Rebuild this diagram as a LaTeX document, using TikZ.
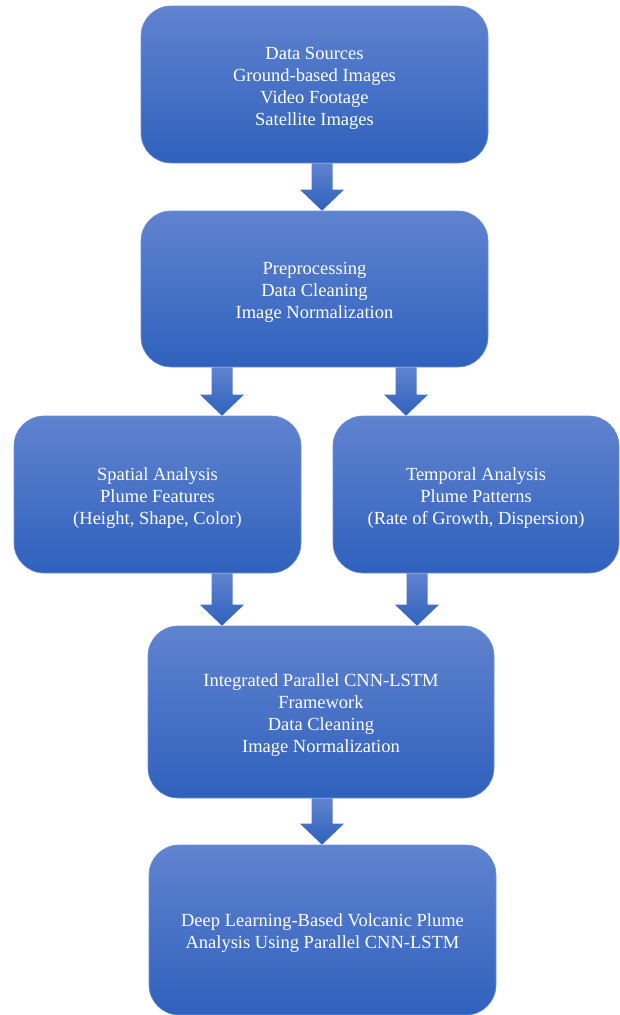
\documentclass[tikz,border=0pt]{standalone}
\usepackage{fontspec}
\setmainfont{Liberation Serif}
\usetikzlibrary{calc}
\definecolor{boxtop}{RGB}{96,131,207}
\definecolor{boxbot}{RGB}{47,97,189}
\definecolor{boxedge}{RGB}{110,145,215}
\tikzset{
  flowbox/.style={rectangle, rounded corners=30pt, top color=boxtop, bottom color=boxbot,
    draw=boxedge, line width=0.6pt, inner sep=0pt},
  flowtext/.style={text=white, align=center, inner sep=0pt,
    font=\fontsize{18.5}{22}\selectfont},
  arrowfill/.style={top color=boxtop, bottom color=boxbot, draw=none}
}
\newcommand{\blockarr}[3]{%
  \path[arrowfill] let \p1=(#2.south), \p2=(#3.north) in
    ({#1-10.5pt},\y1) -- ({#1+10.5pt},\y1) -- ({#1+10.5pt},{\y2+21pt}) -- ({#1+22pt},{\y2+21pt})
    -- ({#1},\y2) -- ({#1-22pt},{\y2+21pt}) -- ({#1-10.5pt},{\y2+21pt}) -- cycle;}
\begin{document}
\begin{tikzpicture}[x=1pt,y=-1pt]
\useasboundingbox (0,0) rectangle (619,1015);
\node[flowbox, minimum width=347pt, minimum height=157pt] (src) at (314.5,84.5) {};
\node[flowtext] (srct) at ([yshift=-3.5pt]src.center)
  {Data Sources\\Ground-based Images\\Video Footage\\Satellite Images};
\node[flowbox, minimum width=347pt, minimum height=156pt] (pre) at (314.5,289) {};
\node[flowtext] (pret) at ([yshift=-3.5pt]pre.center)
  {Preprocessing\\Data Cleaning\\Image Normalization};
\node[flowbox, minimum width=287pt, minimum height=157pt] (spa) at (157.5,494.5) {};
\node[flowtext] (spat) at ([yshift=-3.5pt]spa.center)
  {Spatial Analysis\\Plume Features\\(Height, Shape, Color)};
\node[flowbox, minimum width=286pt, minimum height=157pt] (tem) at (476,494.5) {};
\node[flowtext] (temt) at ([yshift=-3.5pt]tem.center)
  {Temporal Analysis\\Plume Patterns\\(Rate of Growth, Dispersion)};
\node[flowbox, minimum width=346pt, minimum height=172pt] (int) at (321,712) {};
\node[flowtext] (intt) at ([yshift=-3.5pt]int.center)
  {Integrated Parallel CNN-LSTM\\Framework\\Data Cleaning\\Image Normalization};
\node[flowbox, minimum width=347pt, minimum height=170pt] (dl) at (322.5,930) {};
\node[flowtext] (dlt) at ([yshift=-3.5pt]dl.center)
  {Deep Learning-Based Volcanic Plume\\Analysis Using Parallel CNN-LSTM};
\blockarr{322pt}{src}{pre}
\blockarr{222pt}{pre}{spa}
\blockarr{406pt}{pre}{tem}
\blockarr{222pt}{spa}{int}
\blockarr{417pt}{tem}{int}
\blockarr{322pt}{int}{dl}
\end{tikzpicture}
\end{document}
